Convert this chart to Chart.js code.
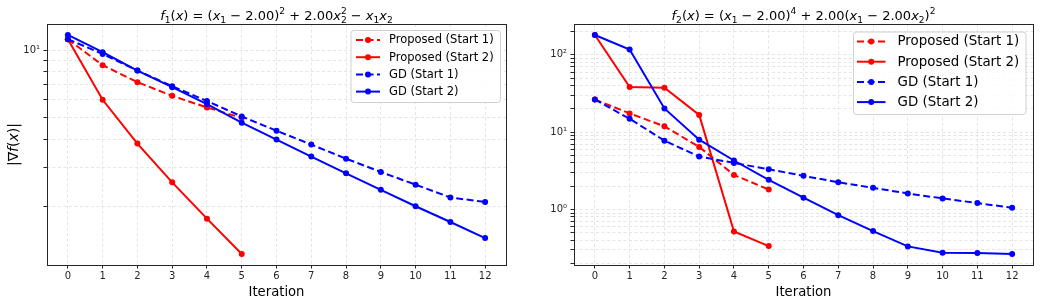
<!DOCTYPE html>
<html>
<head>
<meta charset="utf-8">
<script src="https://cdn.jsdelivr.net/npm/chart.js@4.4.0/dist/chart.umd.min.js"></script>
<style>
  body { margin: 0; background: #fff; }
  .wrap { position: absolute; top: 0; width: 520px; height: 303px; }
</style>
</head>
<body>
<div class="wrap" style="left:0"><canvas id="chartF1" width="520" height="303"></canvas></div>
<div class="wrap" style="left:520px"><canvas id="chartF2" width="520" height="303"></canvas></div>
<script>
// iterations on the x axis
const iterations = [0, 1, 2, 3, 4, 5, 6, 7, 8, 9, 10, 11, 12];
const seriesLabels = ['Proposed (Start 1)', 'Proposed (Start 2)', 'GD (Start 1)', 'GD (Start 2)'];

// |grad f1| per iteration
const f1PropStart1 = [11.2, 8.57, 7.2, 6.26, 5.55, 4.99];
const f1PropStart2 = [11.2, 6.01, 3.83, 2.57, 1.77, 1.23];
const f1GdStart1 = [11.2, 9.63, 8.11, 6.91, 5.93, 5.06, 4.37, 3.79, 3.28, 2.86, 2.51, 2.20, 2.10];
const f1GdStart2 = [11.7, 9.80, 8.11, 6.84, 5.75, 4.75, 3.99, 3.35, 2.82, 2.38, 2.01, 1.71, 1.45];

// |grad f2| per iteration
const f2PropStart1 = [26.5, 17.5, 11.9, 6.44, 2.80, 1.81];
const f2PropStart2 = [181, 38.3, 37.5, 16.7, 0.52, 0.336];
const f2GdStart1 = [26.5, 14.9, 7.77, 4.83, 4.0, 3.31, 2.72, 2.25, 1.905, 1.61, 1.39, 1.21, 1.05];
const f2GdStart2 = [181, 117, 20.3, 8.0, 4.3, 2.42, 1.42, 0.844, 0.525, 0.333, 0.276, 0.273, 0.265];

// log axis ticks (only decades get a label)
const f1Ticks = [2, 3, 4, 5, 6, 7, 8, 9, 10];
const f2Ticks = [0.2, 0.3, 0.4, 0.5, 0.6, 0.7, 0.8, 0.9, 1, 2, 3, 4, 5, 6, 7, 8, 9,
                 10, 20, 30, 40, 50, 60, 70, 80, 90, 100, 200];
const decadeLabels = { 1: '10⁰', 10: '10¹', 100: '10²' };

// titles as [text, style]: i italic, b subscript, p superscript, k keep x (stacked)
const f1Title = [['f', 'i'], ['1', 'b'], ['(', 'n'], ['x', 'i'], [') = (', 'n'], ['x', 'i'], ['1', 'b'],
  [' − 2.00)', 'n'], ['2', 'p'], [' + 2.00', 'n'], ['x', 'i'], ['2', 'bk'], ['2', 'p'],
  [' − ', 'n'], ['x', 'i'], ['1', 'b'], ['x', 'i'], ['2', 'b']];
const f2Title = [['f', 'i'], ['2', 'b'], ['(', 'n'], ['x', 'i'], [') = (', 'n'], ['x', 'i'], ['1', 'b'],
  [' − 2.00)', 'n'], ['4', 'p'], [' + 2.00(', 'n'], ['x', 'i'], ['1', 'b'], [' − 2.00', 'n'],
  ['x', 'i'], ['2', 'b'], [')', 'n'], ['2', 'p']];
const yLabel = [['|∇', 'n'], ['f', 'i'], ['(', 'n'], ['x', 'i'], [')|', 'n']];

const FONT = '"DejaVu Sans", sans-serif';
const styles = [
  { color: '#ff0000', dash: [7, 3.5] },
  { color: '#ff0000', dash: [] },
  { color: '#0000ff', dash: [7, 3.5] },
  { color: '#0000ff', dash: [] }
];

function richText(ctx, parts, cx, cy, size, angle) {
  const items = [];
  let x = 0, held = 0;
  parts.forEach(([t, s]) => {
    const small = s.includes('b') || s.includes('p');
    const font = (s.includes('i') ? 'italic ' : '') + (small ? size * 0.7 : size) + 'px ' + FONT;
    ctx.font = font;
    const w = ctx.measureText(t).width;
    const dy = s.includes('b') ? size * 0.22 : s.includes('p') ? -size * 0.42 : 0;
    items.push({ t, font, x, dy });
    if (s.includes('k')) held = w;
    else { x += Math.max(w, held); held = 0; }
  });
  ctx.save();
  ctx.translate(cx, cy);
  ctx.rotate(angle || 0);
  ctx.fillStyle = '#000';
  ctx.textBaseline = 'alphabetic';
  ctx.textAlign = 'left';
  items.forEach(it => {
    ctx.font = it.font;
    ctx.fillText(it.t, -x / 2 + it.x, size * 0.36 + it.dy);
  });
  ctx.restore();
}

function logRange(arrays) {
  const all = arrays.flat();
  const lo = Math.log10(Math.min(...all)), hi = Math.log10(Math.max(...all));
  const pad = (hi - lo) * 0.05;
  return [Math.pow(10, lo - pad), Math.pow(10, hi + pad)];
}

const decor = {
  id: 'decor',
  afterDraw(chart) {
    const o = chart.options.plugins.decor;
    const { ctx, chartArea: a } = chart;
    // frame
    ctx.save();
    ctx.strokeStyle = '#262626';
    ctx.lineWidth = 1;
    ctx.strokeRect(a.left + 0.5, a.top + 0.5, a.right - a.left, a.bottom - a.top);
    ctx.restore();
    // title and y label
    richText(ctx, o.title, (a.left + a.right) / 2, 15, 13, 0);
    if (o.yLabel) richText(ctx, o.yLabel, 13, (a.top + a.bottom) / 2, 14, -Math.PI / 2);
    // legend
    const L = o.legend;
    ctx.save();
    ctx.fillStyle = 'rgba(255,255,255,0.85)';
    ctx.strokeStyle = '#d0d0d0';
    ctx.lineWidth = 1;
    ctx.beginPath();
    ctx.roundRect(L.x + 0.5, L.y + 0.5, L.w, L.h, 3);
    ctx.fill();
    ctx.stroke();
    chart.data.datasets.forEach((ds, i) => {
      const y = L.y + L.first + i * L.row;
      ctx.strokeStyle = ds.borderColor;
      ctx.lineWidth = 2;
      ctx.setLineDash(ds.borderDash);
      ctx.beginPath();
      ctx.moveTo(L.x + L.sx, y);
      ctx.lineTo(L.x + L.sx + L.sw, y);
      ctx.stroke();
      ctx.setLineDash([]);
      ctx.fillStyle = ds.borderColor;
      ctx.beginPath();
      ctx.arc(L.x + L.sx + L.sw / 2, y, 3, 0, Math.PI * 2);
      ctx.fill();
      ctx.fillStyle = '#000';
      ctx.font = L.font + 'px ' + FONT;
      ctx.textBaseline = 'middle';
      ctx.fillText(ds.label, L.x + L.tx, y + 0.5);
    });
    ctx.restore();
  }
};

function makeChart(id, series, ticks, title, yTitle, yWidth, padRight, legend) {
  const [yMin, yMax] = logRange(series);
  const datasets = series.map((vals, i) => ({
    label: seriesLabels[i],
    data: vals,
    borderColor: styles[i].color,
    backgroundColor: styles[i].color,
    borderDash: styles[i].dash,
    borderWidth: 2,
    pointRadius: 3,
    pointBorderWidth: 0,
    pointBackgroundColor: styles[i].color,
    tension: 0,
    order: 3 - i
  }));
  const gridStyle = { color: '#dedede', lineWidth: 0.8, tickColor: '#262626', tickLength: 3.5, tickWidth: 1 };
  return new Chart(document.getElementById(id), {
    type: 'line',
    data: { labels: iterations, datasets: datasets },
    options: {
      responsive: false,
      animation: false,
      devicePixelRatio: 1,
      layout: { padding: { left: 0, right: padRight, top: 24, bottom: 0 } },
      plugins: {
        legend: { display: false },
        tooltip: { enabled: false },
        decor: { title: title, yLabel: yTitle, legend: legend }
      },
      scales: {
        x: {
          type: 'linear',
          min: -0.6,
          max: 12.6,
          afterBuildTicks(s) { s.ticks = iterations.map(v => ({ value: v })); },
          afterFit(s) { s.height = 38; },
          ticks: { autoSkip: false, maxRotation: 0, padding: 2, color: '#262626',
                   font: { family: FONT, size: 10 }, callback: v => String(v) },
          grid: gridStyle,
          border: { display: false, dash: [3, 2.5] },
          title: { display: true, text: 'Iteration', color: '#000',
                   font: { family: FONT, size: 13.2 }, padding: { top: 0, bottom: 3 } }
        },
        y: {
          type: 'logarithmic',
          min: yMin,
          max: yMax,
          afterBuildTicks(s) { s.ticks = ticks.filter(v => v >= yMin && v <= yMax).map(v => ({ value: v })); },
          afterFit(s) { s.width = yWidth; },
          ticks: { autoSkip: false, padding: 3.5, color: '#262626',
                   font: { family: FONT, size: 10 }, callback: v => decadeLabels[v] || '' },
          grid: gridStyle,
          border: { display: false, dash: [3, 2.5] }
        }
      }
    },
    plugins: [decor]
  });
}

makeChart('chartF1', [f1PropStart1, f1PropStart2, f1GdStart1, f1GdStart2], f1Ticks, f1Title, yLabel, 47, 14,
  { x: 350.5, y: 30, w: 149.5, h: 72, first: 10, row: 17.2, sx: 5.5, sw: 24, tx: 38.5, font: 11.5 });
makeChart('chartF2', [f2PropStart1, f2PropStart2, f2GdStart1, f2GdStart2], f2Ticks, f2Title, null, 54, 7,
  { x: 333, y: 31.5, w: 172.5, h: 82.5, first: 10, row: 20.2, sx: 4, sw: 28.5, tx: 44.5, font: 13.4 });
</script>
</body>
</html>
